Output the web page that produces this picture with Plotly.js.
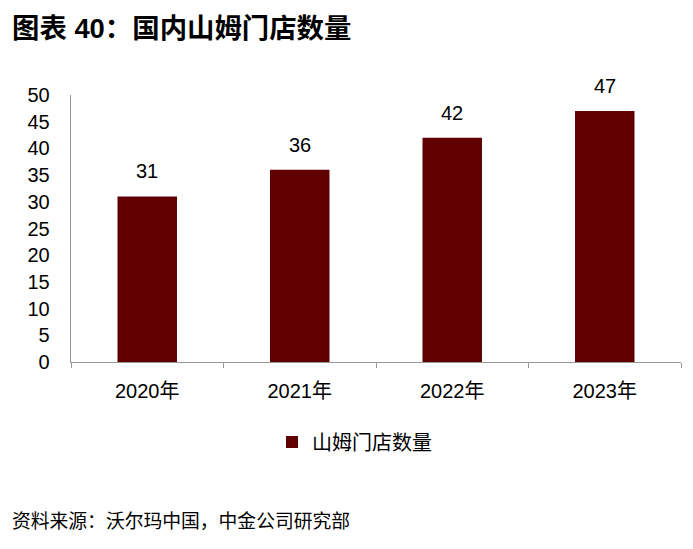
<!DOCTYPE html>
<html><head><meta charset="utf-8">
<script src="https://cdn.plot.ly/plotly-3.0.1.min.js"></script>
<style>html,body{margin:0;padding:0;background:#fff;}#c{width:693px;height:549px;}</style>
</head><body><div id="c"></div>
<script>
const categories = ["2020年", "2021年", "2022年", "2023年"];
const storeCounts = [31, 36, 42, 47];
const seriesName = "山姆门店数量";
const yTicks = [0, 5, 10, 15, 20, 25, 30, 35, 40, 45, 50];

const FONT = "Liberation Sans, Arial, Noto Sans CJK SC, sans-serif";
const trace = {
  type: "bar", x: categories, y: storeCounts, name: seriesName,
  marker: {color: "#600000"}, width: 0.39, showlegend: true
};
const annotations = categories.map((c, i) => ({
  x: c, y: storeCounts[i], text: String(storeCounts[i]), showarrow: false,
  yanchor: "bottom", yshift: 12, font: {family: FONT, size: 20, color: "#000"}
}));
annotations.push({
  xref: "paper", yref: "paper", x: -0.1, y: 1.25, xanchor: "left", yanchor: "middle",
  text: "<b>图表 40：国内山姆门店数量</b>", showarrow: false,
  font: {family: "Liberation Sans, Noto Sans CJK SC, sans-serif", size: 27.4, color: "#000"}
});
annotations.push({
  xref: "paper", yref: "paper", x: -0.1, y: -0.59, xanchor: "left", yanchor: "middle",
  text: "资料来源：沃尔玛中国，中金公司研究部", showarrow: false,
  font: {family: "Noto Sans CJK SC, sans-serif", size: 18.8, color: "#000"}
});
const layout = {
  width: 693, height: 549,
  margin: {l: 71, r: 12, t: 95, b: 187},
  paper_bgcolor: "#fff", plot_bgcolor: "#fff",
  font: {family: FONT, size: 20, color: "#000"},
  xaxis: {
    type: "category", showline: true, linecolor: "#999", linewidth: 1.3,
    ticks: "outside", tickson: "boundaries", ticklen: 5, tickcolor: "#999",
    showgrid: false, zeroline: false, ticklabelstandoff: 11,
    tickfont: {family: FONT, size: 20}
  },
  yaxis: {
    range: [0, 50], tickvals: yTicks, showline: true, linecolor: "#999", linewidth: 1.3,
    ticks: "", showgrid: false, zeroline: false, ticklabelstandoff: 16,
    tickfont: {family: FONT, size: 20}
  },
  legend: {
    orientation: "h", x: 0.3295, xanchor: "left", y: -0.3, yanchor: "middle",
    font: {family: "Noto Sans CJK SC, sans-serif", size: 20}, itemwidth: 30
  },
  annotations: annotations
};
Plotly.newPlot("c", [trace], layout, {displayModeBar: false, staticPlot: true});
</script></body></html>
